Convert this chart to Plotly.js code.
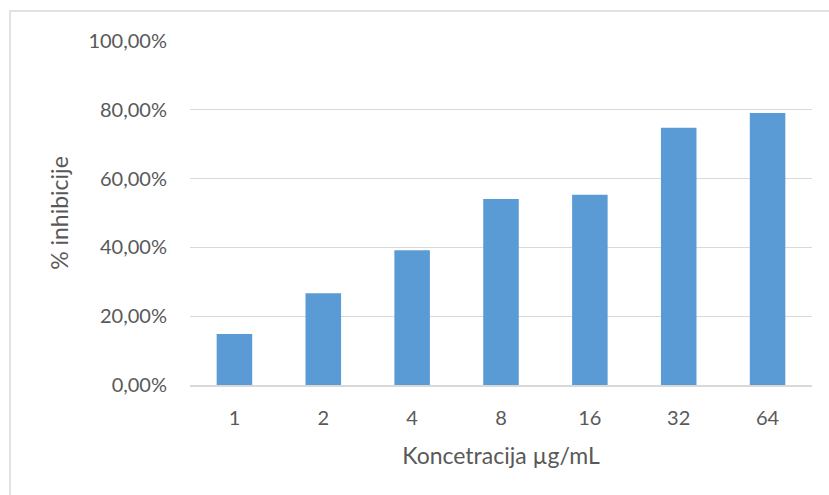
<!DOCTYPE html>
<html>
<head>
<meta charset="utf-8">
<script src="https://cdn.plot.ly/plotly-3.0.1.min.js"></script>
<style>
html,body{margin:0;padding:0;background:#fff;}
#chart{width:829px;height:495px;}
</style>
</head>
<body>
<div id="chart"></div>
<script>
const categories = ["1", "2", "4", "8", "16", "32", "64"];
const inhibition = [0.1484, 0.267, 0.392, 0.541, 0.553, 0.748, 0.791];
const yTicks = [0, 0.2, 0.4, 0.6, 0.8, 1.0];

const font = "Lato, 'Open Sans', sans-serif";
const textColor = "#595959";

const data = [{
  type: "bar",
  x: categories,
  y: inhibition,
  marker: {color: "#5b9bd5"},
  hoverinfo: "x+y"
}];

const layout = {
  width: 829,
  height: 495,
  margin: {l: 190, r: 17, t: 41, b: 110},
  paper_bgcolor: "#ffffff",
  plot_bgcolor: "#ffffff",
  separators: ", ",
  bargap: 0.6,
  showlegend: false,
  font: {family: font, size: 20, color: textColor},
  xaxis: {
    type: "category",
    showgrid: false,
    showline: true,
    linecolor: "#d9d9d9",
    linewidth: 1.5,
    ticks: "",
    ticklabelstandoff: 14,
    tickfont: {family: font, size: 20, color: textColor},
    title: {text: "Koncetracija µg/mL", font: {family: font, size: 23, color: textColor}, standoff: 20}
  },
  yaxis: {
    range: [0, 1.0],
    tickvals: yTicks,
    tickformat: ".2%",
    showgrid: true,
    gridcolor: "#d9d9d9",
    gridwidth: 1.3,
    zeroline: false,
    showline: false,
    ticks: "",
    ticklabelstandoff: 22,
    tickfont: {family: font, size: 20, color: textColor},
    title: {text: "% inhibicije", font: {family: font, size: 23, color: textColor}, standoff: 13}
  },
  shapes: [{
    type: "rect",
    xref: "paper", yref: "paper",
    x0: -0.2894, x1: 1.2, y0: -0.5, y1: 1.0872,
    line: {color: "#d9d9d9", width: 1.5},
    fillcolor: "rgba(0,0,0,0)",
    layer: "below"
  }]
};

Plotly.newPlot("chart", data, layout, {displayModeBar: false, staticPlot: true});
</script>
</body>
</html>
